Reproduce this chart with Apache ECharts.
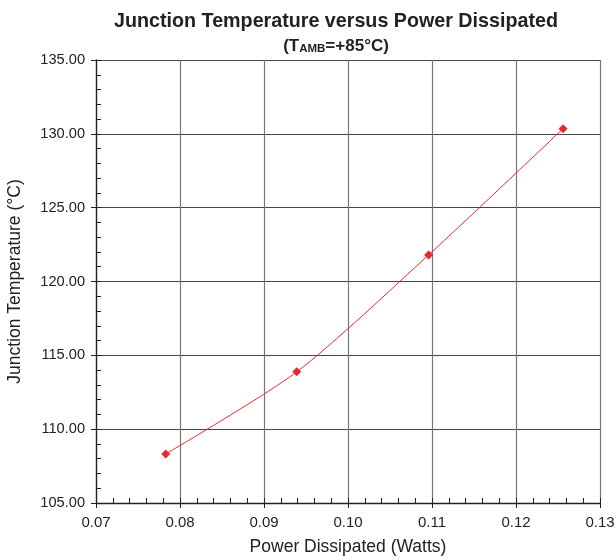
<!DOCTYPE html>
<html><head><meta charset="utf-8">
<script src="https://cdn.jsdelivr.net/npm/echarts@6/dist/echarts.min.js"></script>
<style>html,body{margin:0;padding:0;background:#fff}#c{width:616px;height:560px}</style>
</head><body><div id="c"></div>
<script>
var powerW = [0.0783, 0.0939, 0.1096, 0.1256];
var junctionTemp = [108.32, 113.88, 121.8, 130.35];
var xTicks = [0.07, 0.08, 0.09, 0.10, 0.11, 0.12, 0.13];
var yTicks = [105, 110, 115, 120, 125, 130, 135];

var pts = powerW.map(function(x, i){ return [x, junctionTemp[i]]; });
var chart = echarts.init(document.getElementById('c'));
var font = 'Arial, "Liberation Sans", sans-serif';
var txt = '#222';
function fmt(v){ return v.toFixed(2); }
function mainX(){
  return {
    type: 'value', min: xTicks[0], max: xTicks[xTicks.length-1], interval: 0.01, position: 'bottom',
    name: 'Power Dissipated (Watts)', nameLocation: 'middle', nameGap: 35,
    nameTextStyle: {fontFamily: font, fontSize: 17.5, color: txt},
    axisLine: {show: true, lineStyle: {color: '#222', width: 1.3}},
    axisTick: {show: true, inside: true, length: 5, lineStyle: {color: '#222'}},
    minorTick: {show: true, splitNumber: 5, length: 5, lineStyle: {color: '#222'}},
    axisLabel: {fontFamily: font, fontSize: 15, color: txt, margin: 12, formatter: fmt},
    splitLine: {show: true, lineStyle: {color: '#777', width: 1.2}}
  };
}
function mainY(){
  return {
    type: 'value', min: yTicks[0], max: yTicks[yTicks.length-1], interval: 5, position: 'left',
    name: 'Junction Temperature (°C)', nameLocation: 'middle', nameGap: 72,
    nameTextStyle: {fontFamily: font, fontSize: 17.5, color: txt},
    axisLine: {show: true, lineStyle: {color: '#222', width: 1.3}},
    axisTick: {show: true, inside: true, length: 5, lineStyle: {color: '#222'}},
    minorTick: {show: true, splitNumber: 5, length: 5, lineStyle: {color: '#222'}},
    axisLabel: {fontFamily: font, fontSize: 14.6, color: txt, margin: 11, formatter: fmt},
    splitLine: {show: true, lineStyle: {color: '#444', width: 1.2}}
  };
}
function tickOnly(base){
  return {
    type: 'value', min: base.min, max: base.max, interval: base.interval, position: base.position,
    axisLine: {show: false}, axisLabel: {show: false}, splitLine: {show: false},
    axisTick: {show: true, inside: false, length: 5, lineStyle: {color: '#222'}}
  };
}
var mx = mainX(), my = mainY();
chart.setOption({
  animation: false,
  title: {
    text: 'Junction Temperature versus Power Dissipated',
    subtext: '{p|(T}{s|AMB}{p|=+85°C)}',
    left: 331, textAlign: 'center', top: 7, itemGap: 5,
    textStyle: {fontFamily: font, fontSize: 19.7, fontWeight: 'bold', color: txt},
    subtextStyle: {rich: {
      p: {fontFamily: font, fontSize: 17, fontWeight: 'bold', color: txt},
      s: {fontFamily: font, fontSize: 11.5, fontWeight: 'bold', color: txt, verticalAlign: 'bottom', padding: [6,0,0,0]}
    }}
  },
  grid: {left: 96, right: 16, top: 60, bottom: 57, containLabel: false, outerBoundsMode: 'none'},
  xAxis: [mx, tickOnly(mx)],
  yAxis: [my, tickOnly(my)],
  series: [{
    type: 'line', data: pts, smooth: 0.25,
    symbol: 'diamond', symbolSize: 9,
    itemStyle: {color: '#e8282c'},
    lineStyle: {color: '#e8282c', width: 1}
  }]
});
</script></body></html>
